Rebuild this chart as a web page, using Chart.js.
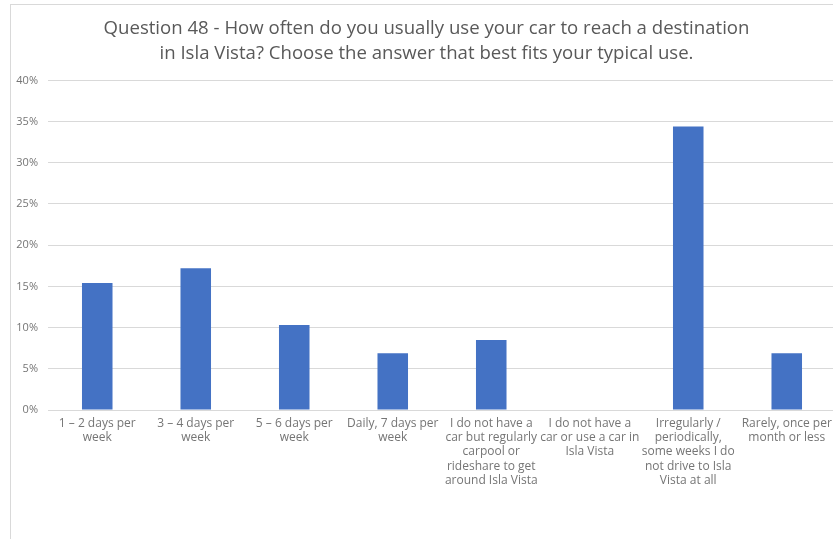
<!DOCTYPE html>
<html>
<head>
<meta charset="utf-8">
<script src="https://cdn.jsdelivr.net/npm/chart.js@4"></script>
<style>
html,body{margin:0;padding:0;background:#fff;overflow:hidden;}
#wrap{position:absolute;left:0;top:0;width:833px;height:539px;overflow:hidden;}
#frame{position:absolute;left:10px;top:4px;width:840px;height:560px;border:1px solid #d9d9d9;box-sizing:border-box;pointer-events:none;}
</style>
</head>
<body>
<div id="wrap"><canvas id="c" width="846" height="539"></canvas></div>
<div id="frame"></div>
<script>
const categories = [
  ["1 – 2 days per", "week"],
  ["3 – 4 days per", "week"],
  ["5 – 6 days per", "week"],
  ["Daily, 7 days per", "week"],
  ["I do not have a", "car but regularly", "carpool or", "rideshare to get", "around Isla Vista"],
  ["I do not have a", "car or use a car in", "Isla Vista"],
  ["Irregularly /", "periodically,", "some weeks I do", "not drive to Isla", "Vista at all"],
  ["Rarely, once per", "month or less"]
];
const percentValues = [15.4, 17.2, 10.3, 6.9, 8.5, 0, 34.4, 6.9];
const yTicks = [0, 5, 10, 15, 20, 25, 30, 35, 40];
const titleLines = [
  "Question 48 - How often do you usually use your car to reach a destination",
  "in Isla Vista? Choose the answer that best fits your typical use."
];

const FONT = "'Open Sans', Lato, sans-serif";
const titleShift = {
  id: 'titleShift',
  afterLayout(chart) { if (chart.titleBlock) chart.titleBlock.left += 17; }
};
new Chart(document.getElementById('c'), {
  type: 'bar',
  data: {
    labels: categories,
    datasets: [{
      data: percentValues,
      backgroundColor: '#4472c4',
      borderWidth: 0,
      barPercentage: 0.31,
      categoryPercentage: 1.0
    }]
  },
  plugins: [titleShift],
  options: {
    responsive: false,
    animation: false,
    devicePixelRatio: 1,
    layout: { padding: { left: 0, right: 10, top: 0, bottom: 0 } },
    plugins: {
      legend: { display: false },
      tooltip: { enabled: false },
      title: {
        display: true,
        text: titleLines,
        color: '#595959',
        font: { family: FONT, size: 18.6, weight: 'normal', lineHeight: 1.3 },
        padding: { top: 17, bottom: 15 }
      }
    },
    scales: {
      x: {
        grid: { display: false, drawTicks: false },
        border: { display: true, color: '#d9d9d9', width: 1 },
        ticks: {
          color: '#757575',
          font: { family: FONT, size: 12, lineHeight: 1.2 },
          maxRotation: 0, minRotation: 0, autoSkip: false, padding: 6
        },
        afterFit: (a) => { a.height = 129; }
      },
      y: {
        min: 0, max: 40,
        afterBuildTicks: (a) => { a.ticks = yTicks.map(v => ({ value: v })); },
        grid: { color: '#d9d9d9', drawTicks: false, lineWidth: 1 },
        border: { display: false },
        ticks: {
          color: '#757575',
          font: { family: FONT, size: 11 },
          padding: 10,
          callback: (v) => v + '%'
        },
        afterFit: (a) => { a.width = 48; }
      }
    }
  }
});
</script>
</body>
</html>
